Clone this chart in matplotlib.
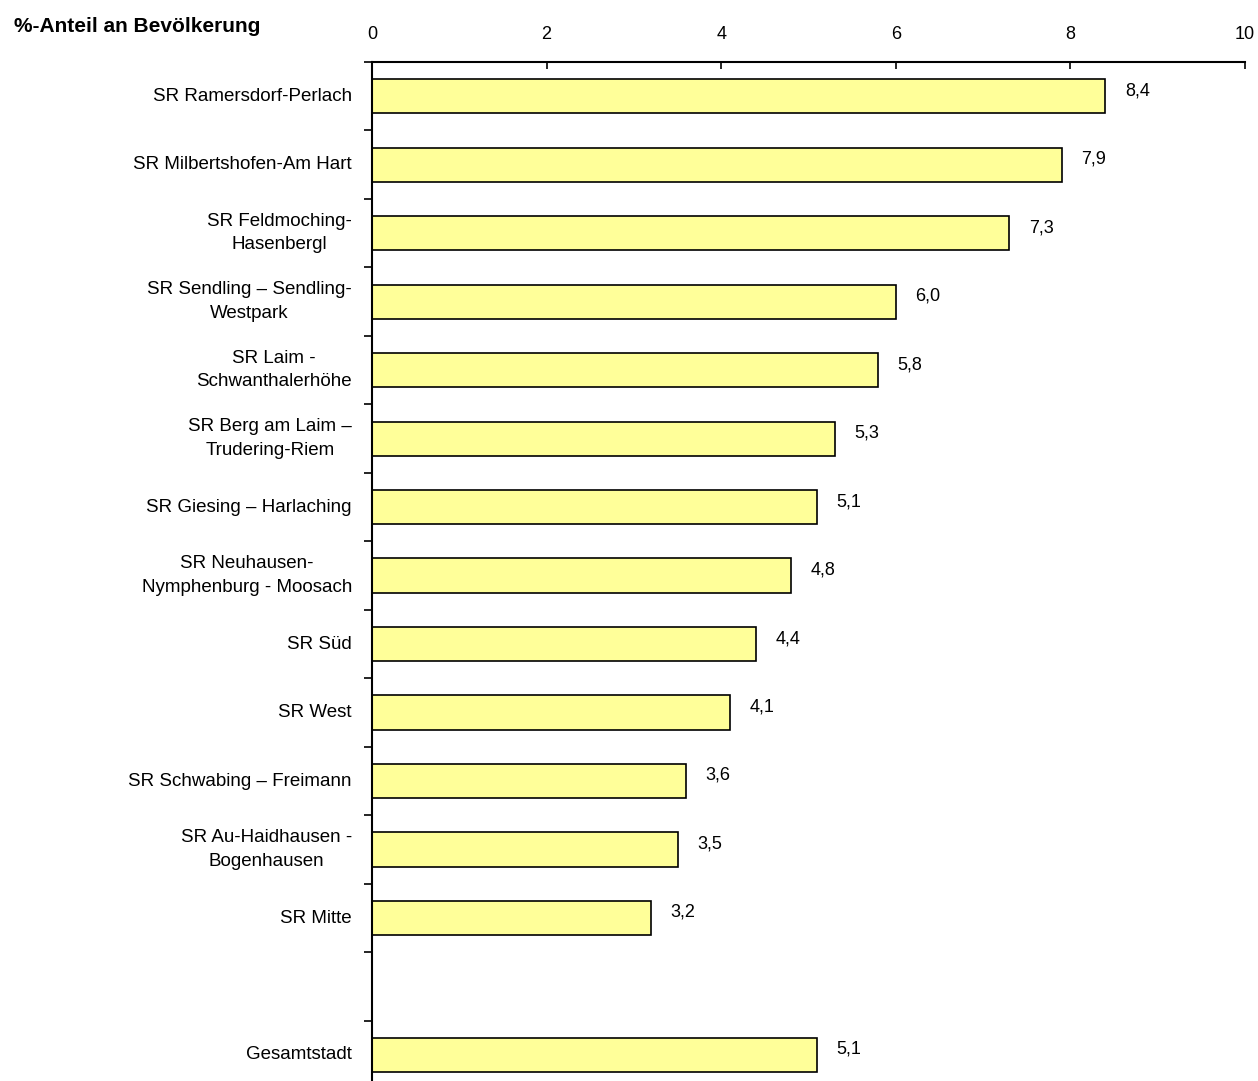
import matplotlib.pyplot as plt

districts = [
    "SR Ramersdorf-Perlach",
    "SR Milbertshofen-Am Hart",
    "SR Feldmoching-\nHasenbergl",
    "SR Sendling \u2013 Sendling-\nWestpark",
    "SR Laim -\nSchwanthalerhöhe",
    "SR Berg am Laim \u2013\nTrudering-Riem",
    "SR Giesing \u2013 Harlaching",
    "SR Neuhausen-\nNymphenburg - Moosach",
    "SR Süd",
    "SR West",
    "SR Schwabing \u2013 Freimann",
    "SR Au-Haidhausen -\nBogenhausen",
    "SR Mitte",
    "",
    "Gesamtstadt",
]
shares = [8.4, 7.9, 7.3, 6.0, 5.8, 5.3, 5.1, 4.8, 4.4, 4.1, 3.6, 3.5, 3.2, None, 5.1]
x_ticks = [0, 2, 4, 6, 8, 10]

plt.rcParams['font.family'] = ['Liberation Sans', 'DejaVu Sans']

fig = plt.figure(figsize=(12.58, 10.81), dpi=100)
ax = fig.add_axes([372 / 1258, 0, (1245 - 372) / 1258, 1 - 62 / 1081])

pos = [i for i, v in enumerate(shares) if v is not None]
vals = [v for v in shares if v is not None]
ax.barh(pos, vals, height=0.5, color='#FFFF99', edgecolor='black', linewidth=1.2)

for p, v in zip(pos, vals):
    ax.annotate(f"{v:.1f}".replace(".", ","), (v, p), xytext=(14, 4),
                textcoords='offset points', va='center', ha='left', fontsize=13)

ax.set_xlim(0, 10)
ax.set_ylim(14.38, -0.5)
ax.set_xticks(x_ticks)
ax.xaxis.tick_top()
ax.tick_params(axis='x', direction='in', length=5, width=1.2, labelsize=13, pad=14)

ax.set_yticks([i - 0.5 for i in range(15)])
ax.set_yticklabels([])
ax.tick_params(axis='y', direction='out', length=6, width=1.2)
for i, name in enumerate(districts):
    if name:
        ax.text(-0.23, i, name, ha='right', va='center', multialignment='center',
                fontsize=13.5, linespacing=1.5, transform=ax.transData)

for s in ['right', 'bottom']:
    ax.spines[s].set_visible(False)
for s in ['top', 'left']:
    ax.spines[s].set_linewidth(1.5)

fig.text(14 / 1258, 1 - 26 / 1081, "%-Anteil an Bevölkerung", fontsize=15,
         fontweight='bold', ha='left', va='center')

fig.savefig("out.png", dpi=100)
